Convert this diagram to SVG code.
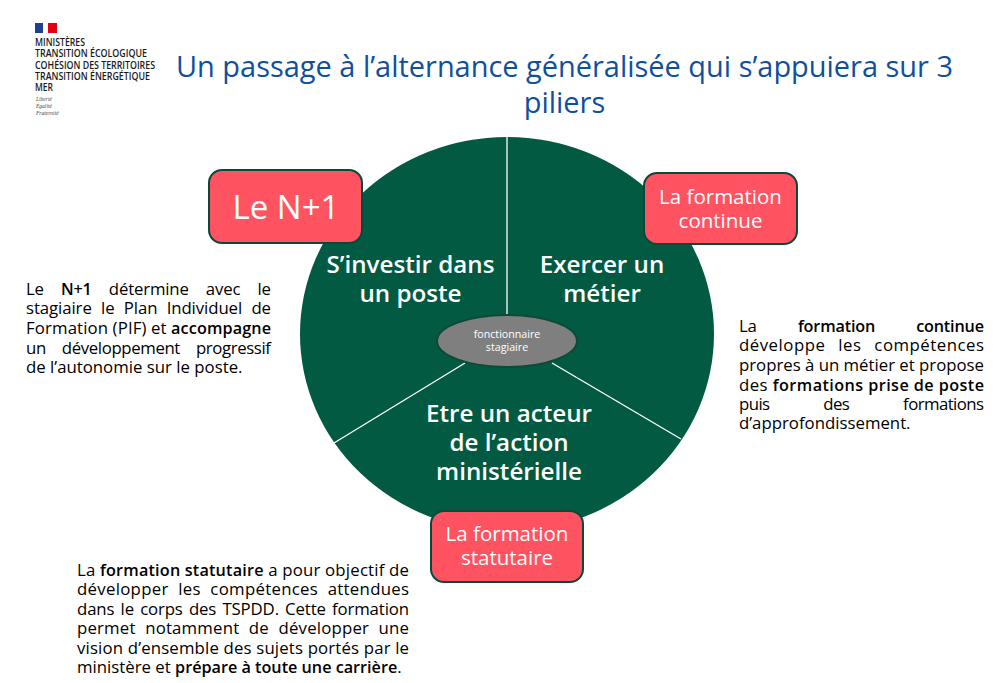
<svg xmlns="http://www.w3.org/2000/svg" width="1003" height="683" viewBox="0 0 1003 683">
<style>
text{font-family:"Open Sans","Noto Sans","Liberation Sans",sans-serif}
.box{fill:#ff5361;stroke:#064a3a;stroke-width:2}
.bt{fill:#fff;font-size:20.500px;text-anchor:middle}
.pt{fill:#fff;font-size:24.200px;font-weight:600;text-anchor:middle}
.b{fill:#000;font-size:16.800px}
.s{font-weight:600;font-size:16.200px}
.title{fill:#104f9e;font-size:28.950px;text-anchor:middle}
.logo{fill:#1a1a1a;font-size:10px;font-weight:600}
.it{fill:#444;font-family:"Liberation Serif",serif;font-size:5.500px;font-style:italic}
.sp{stroke:#fff;stroke-width:1.300}
</style>
<g id="logo">
<rect x="35" y="23" width="8" height="10" fill="#1f3f91"/><rect x="43" y="23" width="5" height="10" fill="#fff"/><rect x="48" y="23" width="9" height="10" fill="#e1000f"/>
<text class="logo" x="35" y="46" textLength="50" lengthAdjust="spacingAndGlyphs">MINISTÈRES</text>
<text class="logo" x="35" y="57" textLength="112" lengthAdjust="spacingAndGlyphs">TRANSITION ÉCOLOGIQUE</text>
<text class="logo" x="35" y="68.500" textLength="120" lengthAdjust="spacingAndGlyphs">COHÉSION DES TERRITOIRES</text>
<text class="logo" x="35" y="80" textLength="115" lengthAdjust="spacingAndGlyphs">TRANSITION ÉNERGÉTIQUE</text>
<text class="logo" x="35" y="91" textLength="18" lengthAdjust="spacingAndGlyphs">MER</text>
<text class="it" x="36" y="101">Liberté</text><text class="it" x="36" y="108">Égalité</text><text class="it" x="36" y="115">Fraternité</text>
</g>
<g id="title">
<text class="title" x="564.500" y="77">Un passage à l’alternance généralisée qui s’appuiera sur 3</text>
<text class="title" x="564.500" y="113">piliers</text>
</g>
<g id="pie"><ellipse cx="507" cy="334" rx="207" ry="197" fill="#025a42"/></g>
<g id="connectors">
<line class="sp" x1="507" y1="137" x2="507" y2="316"/>
<line class="sp" x1="465" y1="363" x2="334" y2="443"/>
<line class="sp" x1="552" y1="363" x2="681" y2="439"/>
</g>
<g id="p1"><text class="pt" x="410.500" y="273">S’investir dans</text><text class="pt" x="410.500" y="302">un poste</text></g>
<g id="p2"><text class="pt" x="602" y="273">Exercer un</text><text class="pt" x="602" y="302">métier</text></g>
<g id="p3"><text class="pt" x="509" y="422">Etre un acteur</text><text class="pt" x="509" y="451">de l’action</text><text class="pt" x="509" y="480">ministérielle</text></g>
<g id="center">
<ellipse cx="507" cy="341" rx="70" ry="26" fill="#7f7f7f" stroke="#0e4a3a" stroke-width="2"/>
<text x="507" y="338" fill="#fff" font-size="10.700" text-anchor="middle">fonctionnaire</text>
<text x="507" y="351" fill="#fff" font-size="10.700" text-anchor="middle">stagiaire</text>
</g>
<g id="n1"><rect class="box" x="209" y="170" width="153" height="73" rx="13"/><text class="bt" x="286" y="219" style="font-size:33px">Le N+1</text></g>
<g id="fc"><rect class="box" x="644" y="173" width="153" height="71" rx="13"/><text class="bt" x="720.500" y="204">La formation</text><text class="bt" x="720.500" y="228">continue</text></g>
<g id="fs"><rect class="box" x="431" y="511" width="152" height="71" rx="13"/><text class="bt" x="507" y="541">La formation</text><text class="bt" x="507" y="565">statutaire</text></g>
<g id="txt1">
<text class="b" x="26" y="294.500" textLength="245" word-spacing="13">Le <tspan class="s">N+1</tspan> détermine avec le</text>
<text class="b" x="26" y="314" textLength="245" word-spacing="5">stagiaire le Plan Individuel de</text>
<text class="b" x="26" y="334" textLength="245">Formation (PIF) et <tspan class="s">accompagne</tspan></text>
<text class="b" x="26" y="353.500" textLength="245" word-spacing="12">un développement progressif</text>
<text class="b" x="26" y="373">de l’autonomie sur le poste.</text>
</g>
<g id="txt2">
<text class="b" x="739" y="331.500" textLength="245" word-spacing="37">La <tspan class="s">formation continue</tspan></text>
<text class="b" x="739" y="351" textLength="245" word-spacing="8">développe les compétences</text>
<text class="b" x="739" y="371" textLength="245">propres à un métier et propose</text>
<text class="b" x="739" y="390.500" textLength="245">des <tspan class="s">formations prise de poste</tspan></text>
<text class="b" x="739" y="409.500" textLength="245" word-spacing="50">puis des formations</text>
<text class="b" x="739" y="428.500">d’approfondissement.</text>
</g>
<g id="txt3">
<text class="b" x="77" y="575.500" textLength="332">La <tspan class="s">formation statutaire</tspan> a pour objectif de</text>
<text class="b" x="77" y="594.500" textLength="332" word-spacing="5">développer les compétences attendues</text>
<text class="b" x="77" y="614.500" textLength="332" word-spacing="2">dans le corps des TSPDD. Cette formation</text>
<text class="b" x="77" y="634" textLength="332" word-spacing="5">permet notamment de développer une</text>
<text class="b" x="77" y="653.500" textLength="332">vision d’ensemble des sujets portés par le</text>
<text class="b" x="77" y="672.500">ministère et <tspan class="s">prépare à toute une carrière</tspan>.</text>
</g>
</svg>
